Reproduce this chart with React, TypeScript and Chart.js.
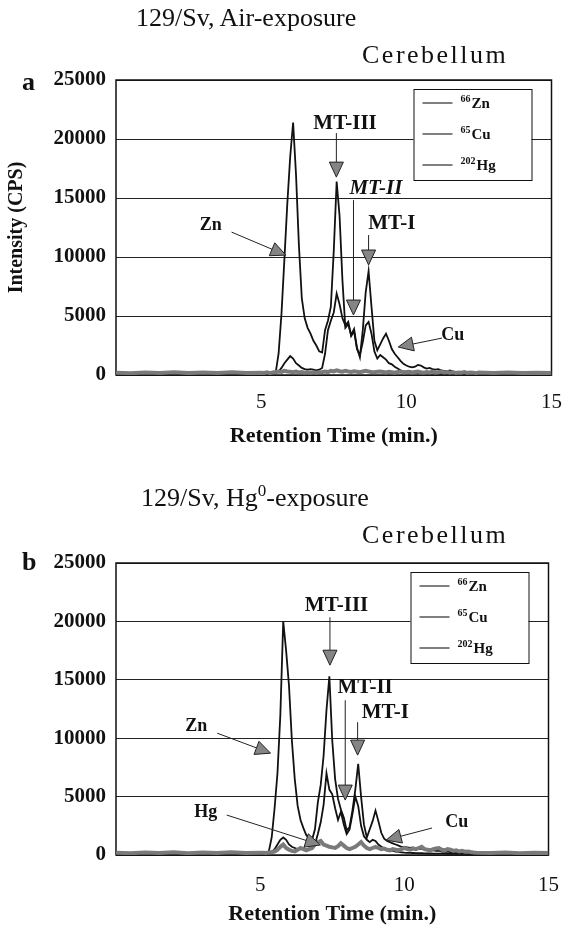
import React, { useEffect, useRef } from "react";
import { Chart, registerables } from "chart.js";

Chart.register(...registerables);

const SERIF = "'Liberation Serif', 'Times New Roman', 'DejaVu Serif', serif";

// ---------- data ----------
const retentionTimes = [
  0, 0.5, 1, 1.5, 2, 2.5, 3, 3.5, 4, 4.5, 5,
  5.1, 5.2, 5.3, 5.4, 5.5, 5.6, 5.7, 5.8, 5.9, 6.0,
  6.1, 6.2, 6.3, 6.4, 6.5, 6.6, 6.7, 6.8, 6.9, 7.0,
  7.1, 7.2, 7.3, 7.4, 7.5, 7.6, 7.7, 7.8, 7.9, 8.0,
  8.1, 8.2, 8.3, 8.4, 8.5, 8.6, 8.7, 8.8, 8.9, 9.0,
  9.1, 9.2, 9.3, 9.4, 9.5, 9.6, 9.7, 9.8, 9.9, 10.0,
  10.1, 10.2, 10.3, 10.4, 10.5, 10.6, 10.7, 10.8, 10.9, 11.0,
  11.1, 11.2, 11.3, 11.4, 11.5, 11.6, 11.7, 11.8, 11.9, 12.0,
  12.1, 12.2, 12.3, 12.4, 12.5,
  13, 13.5, 14, 14.5, 15,
];

// (a) air exposure
const znAir = [
  80, 60, 90, 70, 80, 60, 90, 70, 80, 60, 80,
  90, 100, 110, 130, 200, 1800, 5200, 9800, 14500, 18500,
  21400, 17000, 11000, 6500, 4800, 4000, 3500, 2900, 2500, 2000,
  1900, 3800, 4600, 5800, 10500, 16400, 13500, 8000, 4000, 4300,
  3400, 3900, 2300, 1500, 3800, 7000, 8800, 5800, 2900, 2100,
  2600, 3100, 3500, 2900, 2200, 1800, 1500, 1200, 950, 800,
  700, 650, 700, 850, 800, 650, 550, 600, 500, 450,
  500, 400, 350, 300, 380, 300, 250, 200, 180, 150,
  130, 120, 110, 100, 100,
  90, 80, 90, 80, 90,
];
const cuAir = [
  60, 70, 60, 70, 60, 70, 60, 70, 60, 70, 80,
  90, 90, 100, 110, 150, 300, 600, 1000, 1300, 1600,
  1400, 1000, 800, 600, 500, 450, 500, 450, 400, 450,
  600, 1800, 3800, 4600, 5300, 6900, 6000, 4800, 4200, 4500,
  3300, 3700, 2200, 1700, 2800, 4200, 4500, 3500, 2000, 1400,
  1700, 1500, 1300, 1000, 900, 700, 550, 400, 300, 250,
  220, 200, 180, 170, 160, 150, 150, 140, 130, 120,
  120, 110, 110, 100, 100, 100, 100, 90, 90, 90,
  90, 90, 90, 90, 90,
  80, 70, 80, 70, 80,
];
const hgAir = [
  200, 150, 220, 170, 230, 160, 210, 180, 240, 170, 200,
  180, 220, 160, 210, 250, 300, 260, 350, 300, 280,
  240, 300, 220, 260, 200, 250, 180, 240, 200, 230,
  260, 300, 250, 350, 300, 400, 320, 280, 350, 300,
  260, 320, 280, 240, 300, 350, 300, 260, 240, 280,
  300, 260, 220, 280, 240, 200, 260, 300, 220, 250,
  280, 220, 260, 300, 240, 200, 260, 220, 280, 200,
  240, 300, 220, 260, 200, 240, 180, 220, 200, 250,
  180, 220, 200, 160, 210,
  180, 220, 160, 200, 180,
];

// (b) Hg0 exposure
const znHg = [
  80, 70, 90, 60, 80, 70, 90, 60, 80, 70, 90,
  100, 150, 300, 1500, 4000, 7000, 12000, 20000, 17500, 14500,
  9800, 6500, 4200, 3000, 2300, 1700, 1450, 1300, 2200, 4500,
  6000, 8500, 12400, 15300, 9800, 6500, 4800, 3900, 3200, 2100,
  2400, 3800, 5600, 7800, 5000, 2600, 1500, 2200, 2900, 3800,
  2900, 1900, 1400, 1200, 1100, 1000, 900, 800, 700, 700,
  650, 600, 650, 550, 500, 550, 450, 400, 450, 400,
  350, 380, 300, 280, 300, 250, 220, 200, 180, 160,
  150, 140, 130, 120, 110,
  100, 90, 80, 90, 80,
];
const cuHg = [
  60, 70, 60, 70, 60, 70, 60, 70, 60, 70, 80,
  100, 100, 120, 200, 500, 900, 1300, 1500, 1300, 900,
  700, 600, 500, 600, 500, 450, 500, 600, 900, 1800,
  2800, 4300, 7000, 5600, 5200, 4000, 3000, 3700, 2600, 1800,
  2200, 3500, 5000, 4200, 2500, 1600, 1300, 1100, 1300, 1200,
  900, 700, 600, 500, 400, 350, 300, 260, 230, 200,
  190, 180, 170, 160, 150, 150, 140, 130, 130, 120,
  120, 110, 110, 110, 100, 100, 100, 100, 90, 90,
  90, 90, 90, 90, 90,
  80, 70, 80, 70, 80,
];
const hgHg = [
  200, 150, 220, 170, 230, 160, 210, 180, 240, 170, 200,
  200, 180, 220, 250, 300, 450, 700, 900, 600, 450,
  350, 300, 450, 600, 500, 400, 500, 600, 900, 1100,
  1200, 900, 800, 700, 650, 600, 750, 1000, 800, 600,
  500, 600, 700, 900, 1100, 800, 600, 500, 600, 700,
  600, 500, 550, 450, 400, 500, 450, 400, 500, 600,
  500, 450, 550, 500, 600, 700, 500, 450, 400, 500,
  550, 600, 450, 400, 500, 450, 350, 400, 300, 350,
  280, 300, 250, 220, 200,
  180, 220, 160, 200, 180,
];

const timeTicks = [5, 10, 15];
const intensityTicks = [0, 5000, 10000, 15000, 20000, 25000];
const isotopeMasses = ["66", "65", "202"];
const isotopeElements = ["Zn", "Cu", "Hg"];

// annotation labels (text, label anchor, arrow start, arrow tip) in data units
const notesAir = [
  { text: "MT-III", x: 7.89, y: 21340, from: [7.59, 20500], to: [7.59, 16770], size: 21 },
  { text: "MT-II", italic: true, x: 8.95, y: 15840, from: [8.18, 14820], to: [8.18, 5080], size: 21 },
  { text: "MT-I", x: 9.5, y: 12870, from: [8.7, 11860], to: [8.7, 9320], size: 21 },
  { text: "Zn", x: 3.26, y: 12700, from: [3.98, 12110], to: [5.85, 10160], size: 18 },
  { text: "Cu", x: 11.6, y: 3390, from: [11.23, 3130], to: [9.72, 2370], size: 18 },
];
const notesHg = [
  { text: "MT-III", x: 7.65, y: 21380, from: [7.42, 20350], to: [7.42, 16250], size: 21 },
  { text: "MT-II", x: 8.64, y: 14360, from: [7.95, 13250], to: [7.95, 4700], size: 21 },
  { text: "MT-I", x: 9.34, y: 12230, from: [8.38, 11370], to: [8.38, 8550], size: 21 },
  { text: "Zn", x: 2.78, y: 11030, from: [3.51, 10430], to: [5.36, 8720], size: 18 },
  { text: "Hg", x: 3.11, y: 3680, from: [3.84, 3420], to: [7.09, 855], size: 18 },
  { text: "Cu", x: 11.82, y: 2820, from: [10.96, 2310], to: [9.37, 1280], size: 18 },
];

// ---------- plugins ----------
const framePlugin = {
  id: "frame",
  beforeDatasetsDraw(chart: any) {
    const { ctx, chartArea: a } = chart;
    ctx.save();
    ctx.strokeStyle = "#111";
    ctx.lineWidth = 1.5;
    ctx.strokeRect(a.left, a.top, a.right - a.left, a.bottom - a.top);
    ctx.restore();
  },
};

function drawArrow(ctx: CanvasRenderingContext2D, x1: number, y1: number, x2: number, y2: number) {
  const ang = Math.atan2(y2 - y1, x2 - x1);
  const L = 15;
  const W = 7;
  const bx = x2 - L * Math.cos(ang);
  const by = y2 - L * Math.sin(ang);
  ctx.beginPath();
  ctx.moveTo(x1, y1);
  ctx.lineTo(bx, by);
  ctx.strokeStyle = "#222";
  ctx.lineWidth = 1;
  ctx.stroke();
  ctx.beginPath();
  ctx.moveTo(x2, y2);
  ctx.lineTo(bx + W * Math.sin(ang), by - W * Math.cos(ang));
  ctx.lineTo(bx - W * Math.sin(ang), by + W * Math.cos(ang));
  ctx.closePath();
  ctx.fillStyle = "#858585";
  ctx.fill();
  ctx.strokeStyle = "#222";
  ctx.stroke();
}

const notesPlugin = {
  id: "notes",
  afterDatasetsDraw(chart: any, _args: any, opts: any) {
    const { ctx, scales } = chart;
    const xs = scales.x;
    const ys = scales.y;
    ctx.save();
    (opts.items || []).forEach((n: any) => {
      drawArrow(
        ctx,
        xs.getPixelForValue(n.from[0]),
        ys.getPixelForValue(n.from[1]),
        xs.getPixelForValue(n.to[0]),
        ys.getPixelForValue(n.to[1])
      );
      ctx.font = `${n.italic ? "italic " : ""}bold ${n.size}px ${SERIF}`;
      ctx.fillStyle = "#111";
      ctx.textAlign = "center";
      ctx.textBaseline = "middle";
      ctx.fillText(n.text, xs.getPixelForValue(n.x), ys.getPixelForValue(n.y));
    });
    ctx.restore();
  },
};

const boxLegendPlugin = {
  id: "boxLegend",
  afterDraw(chart: any) {
    const { ctx, chartArea: a } = chart;
    const w = 118;
    const h = 91;
    const x0 = a.right - 20 - w;
    const y0 = a.top + 9;
    ctx.save();
    ctx.fillStyle = "#fff";
    ctx.fillRect(x0, y0, w, h);
    ctx.strokeStyle = "#111";
    ctx.lineWidth = 1;
    ctx.strokeRect(x0 + 0.5, y0 + 0.5, w, h);
    isotopeElements.forEach((el, i) => {
      const cy = y0 + 14 + i * 31;
      ctx.beginPath();
      ctx.moveTo(x0 + 9, cy);
      ctx.lineTo(x0 + 39, cy);
      ctx.strokeStyle = "#555";
      ctx.lineWidth = 1.5;
      ctx.stroke();
      ctx.fillStyle = "#111";
      ctx.textAlign = "left";
      ctx.textBaseline = "alphabetic";
      ctx.font = `bold 10px ${SERIF}`;
      const mass = isotopeMasses[i];
      ctx.fillText(mass, x0 + 47, cy - 1);
      const mw = ctx.measureText(mass).width;
      ctx.font = `bold 15px ${SERIF}`;
      ctx.fillText(el, x0 + 48 + mw, cy + 5);
    });
    ctx.restore();
  },
};

// ---------- panels ----------
const panels = [
  {
    key: "a",
    top: 0,
    height: 465,
    padTop: 80,
    axisH: 90,
    tickPad: 15,
    titlePad: 15,
    yTitle: "Intensity (CPS)",
    series: [znAir, cuAir, hgAir],
    notes: notesAir,
  },
  {
    key: "b",
    top: 465,
    height: 465,
    padTop: 98,
    axisH: 75,
    tickPad: 18,
    titlePad: 2,
    yTitle: "",
    series: [znHg, cuHg, hgHg],
    notes: notesHg,
  },
];

function Panel({ p }: { p: any }) {
  const ref = useRef<HTMLCanvasElement | null>(null);
  useEffect(() => {
    if (!ref.current) return;
    const styles = [
      { color: "#111", width: 1.8, order: 1 },
      { color: "#111", width: 1.8, order: 2 },
      { color: "#7a7a7a", width: 4, order: 0 },
    ];
    const datasets = p.series.map((vals: number[], i: number) => ({
      label: isotopeMasses[i] + isotopeElements[i],
      data: retentionTimes.map((t, k) => ({ x: t, y: vals[k] })),
      borderColor: styles[i].color,
      borderWidth: styles[i].width,
      order: styles[i].order,
      pointRadius: 0,
      tension: 0,
      fill: false,
    }));
    const chart = new Chart(ref.current, {
      type: "line",
      data: { datasets },
      options: {
        animation: false,
        responsive: false,
        maintainAspectRatio: false,
        layout: { padding: { top: p.padTop, right: 12, left: 0, bottom: 0 } },
        plugins: {
          legend: { display: false },
          tooltip: { enabled: false },
          notes: { items: p.notes },
        } as any,
        scales: {
          x: {
            type: "linear",
            min: 0,
            max: 15,
            afterBuildTicks: (s: any) => {
              s.ticks = timeTicks.map((v) => ({ value: v }));
            },
            afterFit: (s: any) => {
              s.height = p.axisH;
            },
            ticks: {
              font: { family: SERIF, size: 21 },
              color: "#111",
              padding: p.tickPad,
              maxRotation: 0,
              autoSkip: false,
              callback: (v: any) => String(v),
            },
            grid: { display: false, drawTicks: false },
            border: { display: false },
            title: {
              display: true,
              text: "Retention Time (min.)",
              font: { family: SERIF, size: 22, weight: "bold" },
              color: "#111",
              padding: { top: 0, bottom: p.titlePad },
            },
          },
          y: {
            type: "linear",
            min: 0,
            max: 25000,
            afterBuildTicks: (s: any) => {
              s.ticks = intensityTicks.map((v) => ({ value: v }));
            },
            afterFit: (s: any) => {
              s.width = 116;
            },
            ticks: {
              font: { family: SERIF, size: 21, weight: "bold" },
              color: "#111",
              padding: 10,
              callback: (v: any) => String(v),
            },
            grid: { color: "#222", lineWidth: 1, drawTicks: false },
            border: { display: false },
            title: {
              display: !!p.yTitle,
              text: p.yTitle,
              font: { family: SERIF, size: 20, weight: "bold" },
              color: "#111",
              padding: { top: 5, bottom: 0 },
            },
          },
        },
      } as any,
      plugins: [framePlugin, notesPlugin, boxLegendPlugin],
    });
    return () => chart.destroy();
  }, []);
  return (
    <canvas
      ref={ref}
      width={577}
      height={p.height}
      style={{ position: "absolute", left: 0, top: p.top, width: 577, height: p.height }}
    />
  );
}

const textBase: React.CSSProperties = {
  position: "absolute",
  fontFamily: SERIF,
  color: "#111",
  whiteSpace: "nowrap",
  lineHeight: "28px",
};

export default function App() {
  return (
    <div style={{ position: "absolute", left: 0, top: 0, width: 577, height: 930, background: "#fff", overflow: "hidden" }}>
      {panels.map((p) => (
        <Panel key={p.key} p={p} />
      ))}
      <div style={{ ...textBase, left: 136, top: 4, fontSize: 26 }}>129/Sv, Air-exposure</div>
      <div style={{ ...textBase, left: 362, top: 41, fontSize: 26, letterSpacing: "2.5px" }}>Cerebellum</div>
      <div style={{ ...textBase, left: 22, top: 68, fontSize: 26, fontWeight: "bold" }}>a</div>
      <div style={{ ...textBase, left: 141, top: 484, fontSize: 26 }}>
        129/Sv, Hg<span style={{ fontSize: 17, position: "relative", top: -10 }}>0</span>-exposure
      </div>
      <div style={{ ...textBase, left: 362, top: 521, fontSize: 26, letterSpacing: "2.5px" }}>Cerebellum</div>
      <div style={{ ...textBase, left: 22, top: 548, fontSize: 26, fontWeight: "bold" }}>b</div>
    </div>
  );
}
